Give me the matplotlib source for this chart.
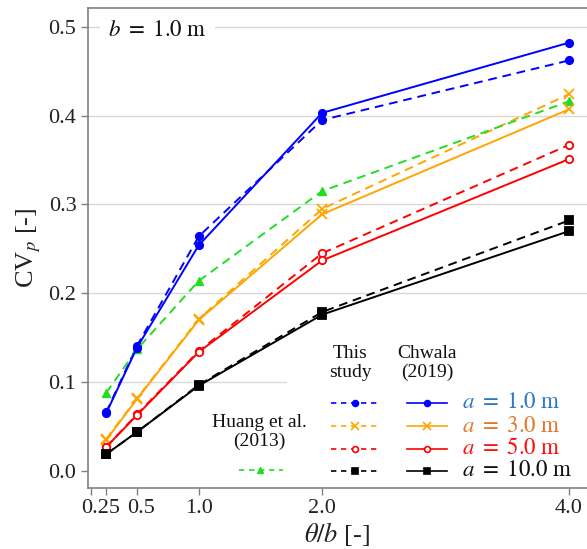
import matplotlib
matplotlib.use("Agg")
import matplotlib.pyplot as plt
import matplotlib.transforms as mtransforms
from matplotlib.patches import Rectangle
from matplotlib.lines import Line2D

plt.rcParams['font.family'] = ['Liberation Serif', 'DejaVu Serif']
plt.rcParams['mathtext.fontset'] = 'stix'

# ---- data ----
theta_b = [0.25, 0.5, 1.0, 2.0, 4.0]
a_labels = [r'$a\ =\ 1.0\ \mathrm{m}$', r'$a\ =\ 3.0\ \mathrm{m}$',
            r'$a\ =\ 5.0\ \mathrm{m}$', r'$a\ =\ 10.0\ \mathrm{m}$']
# This study (dashed)
this_a1 = [0.066, 0.141, 0.264, 0.395, 0.462]
this_a3 = [0.036, 0.082, 0.171, 0.295, 0.424]
this_a5 = [0.027, 0.064, 0.135, 0.245, 0.367]
this_a10 = [0.019, 0.044, 0.097, 0.179, 0.282]
# Chwala (2019) (solid)
chw_a1 = [0.065, 0.139, 0.254, 0.403, 0.482]
chw_a3 = [0.035, 0.081, 0.170, 0.289, 0.407]
chw_a5 = [0.027, 0.063, 0.134, 0.237, 0.351]
chw_a10 = [0.019, 0.044, 0.096, 0.176, 0.270]
# Huang et al. (2013)
huang = [0.088, 0.137, 0.214, 0.315, 0.416]

x_ticks = [0.125, 0.25, 0.5, 1.0, 2.0, 4.0]
x_ticklabels = ['', '0.25', '0.5', '1.0', '2.0', '4.0']
y_ticks = [0.0, 0.1, 0.2, 0.3, 0.4, 0.5]
y_ticklabels = ['0.0', '0.1', '0.2', '0.3', '0.4', '0.5']

colors = ['#0000ff', '#ffa500', '#ff0000', '#000000']
label_colors = ['#2a7ac6', '#e2782c', '#ff1010', '#111111']
markers = ['o', 'x', 'o', 's']
mfcs = [None, None, 'white', None]
green = '#22dd22'

this_series = [this_a1, this_a3, this_a5, this_a10]
chw_series = [chw_a1, chw_a3, chw_a5, chw_a10]

W, H = 587, 549
fig = plt.figure(figsize=(W / 100, H / 100), dpi=100)
L, R, B, T = 87.5, 587, 488, 8
ax = fig.add_axes([L / W, 1 - B / H, (R - L) / W, (B - T) / H])

def fx(px):
    return (px - L) / (R - L)

def fy(py):
    return (B - py) / (B - T)

dash = (4.5, 3.0)
lw = 1.4
for i in range(4):
    mfc = colors[i] if mfcs[i] is None else mfcs[i]
    ms = 7 if markers[i] == 'x' else 5.3
    ax.plot(theta_b, this_series[i], color=colors[i], lw=lw, dashes=dash,
            marker=markers[i], ms=ms, mfc=mfc, mec=colors[i], mew=1.3, zorder=3)
    ax.plot(theta_b, chw_series[i], color=colors[i], lw=lw, ls='-',
            marker=markers[i], ms=ms, mfc=mfc, mec=colors[i], mew=1.3, zorder=4)
ax.plot(theta_b, huang, color=green, lw=lw, dashes=dash, marker='^', ms=6,
        mfc=green, mec=green, zorder=3)

ax.set_xlim(0.099, 4.146)
ax.set_ylim(-0.019, 0.521)
ax.set_xticks(x_ticks)
ax.set_xticklabels(x_ticklabels)
ax.set_yticks(y_ticks)
ax.set_yticklabels(y_ticklabels)

ax.grid(axis='y', color='#d8d8d8', lw=1.0, zorder=0)
ax.set_axisbelow(True)
ax.yaxis.get_gridlines()[0].set_visible(False)

for s in ['left', 'bottom', 'top']:
    ax.spines[s].set_color('#808080')
    ax.spines[s].set_linewidth(1.2)
ax.spines['right'].set_visible(False)
ax.tick_params(axis='both', colors='#808080', length=5, width=1.0,
               labelsize=16, labelcolor='#222222', pad=3)

# nudge the crowded 0.25 / 0.5 labels apart
xl = ax.get_xticklabels()
xl[1].set_transform(xl[1].get_transform() +
                    mtransforms.ScaledTranslation(-6 / 100, 0, fig.dpi_scale_trans))
xl[2].set_transform(xl[2].get_transform() +
                    mtransforms.ScaledTranslation(4 / 100, 0, fig.dpi_scale_trans))

ax.set_xlabel(r'$\theta/b$ [-]', fontsize=19, color='#222222', labelpad=1)
ax.set_ylabel(r'CV$_p$ [-]', fontsize=19, color='#222222', labelpad=4)

# white legend background
ax.add_patch(Rectangle((fx(287), 0), 1 - fx(287), fy(342), transform=ax.transAxes,
                       facecolor='white', edgecolor='none', zorder=1))

ax.text(fx(108), fy(30), r'$b\ =\ 1.0\ \mathrm{m}$', transform=ax.transAxes,
        fontsize=16.5, ha='left', va='center', color='#111111', zorder=5,
        bbox=dict(facecolor='white', edgecolor='none', pad=6))

# legend headers
ax.text(fx(350), fy(363), 'This\nstudy', transform=ax.transAxes, fontsize=14,
        ha='center', va='center', linespacing=1.1, color='#111111', zorder=6)
ax.text(fx(427), fy(363), 'Chwala\n(2019)', transform=ax.transAxes, fontsize=14,
        ha='center', va='center', linespacing=1.1, color='#111111', zorder=6)

rows = [403, 426, 449, 471]
for i, py in enumerate(rows):
    mfc = colors[i] if mfcs[i] is None else mfcs[i]
    ms = 5.5 if markers[i] == 'x' else 4.2
    ax.add_line(Line2D([fx(331), fx(377)], [fy(py), fy(py)], transform=ax.transAxes,
                       color=colors[i], lw=1.2, dashes=(3.2, 2.8), zorder=6))
    ax.add_line(Line2D([fx(355)], [fy(py)], transform=ax.transAxes, color=colors[i],
                       marker=markers[i], ms=ms, mfc=mfc, mec=colors[i], mew=1.2,
                       ls='none', zorder=7))
    ax.add_line(Line2D([fx(407), fx(447)], [fy(py), fy(py)], transform=ax.transAxes,
                       color=colors[i], lw=1.2, zorder=6))
    ax.add_line(Line2D([fx(427)], [fy(py)], transform=ax.transAxes, color=colors[i],
                       marker=markers[i], ms=ms, mfc=mfc, mec=colors[i], mew=1.2,
                       ls='none', zorder=7))
    ax.text(fx(462), fy(py), a_labels[i], transform=ax.transAxes, fontsize=16.5,
            ha='left', va='center', color=label_colors[i], zorder=7)

# Huang legend
ax.text(fx(259), fy(432), 'Huang et al.\n(2013)', transform=ax.transAxes, fontsize=14,
        ha='center', va='center', linespacing=1.1, color='#111111', zorder=6)
ax.add_line(Line2D([fx(239), fx(283)], [fy(470), fy(470)], transform=ax.transAxes,
                   color=green, lw=1.2, dashes=(3.2, 2.8), zorder=6))
ax.add_line(Line2D([fx(260)], [fy(470)], transform=ax.transAxes, color=green,
                   marker='^', ms=5, mfc=green, mec=green, ls='none', zorder=7))

fig.savefig('out.png', dpi=100)
